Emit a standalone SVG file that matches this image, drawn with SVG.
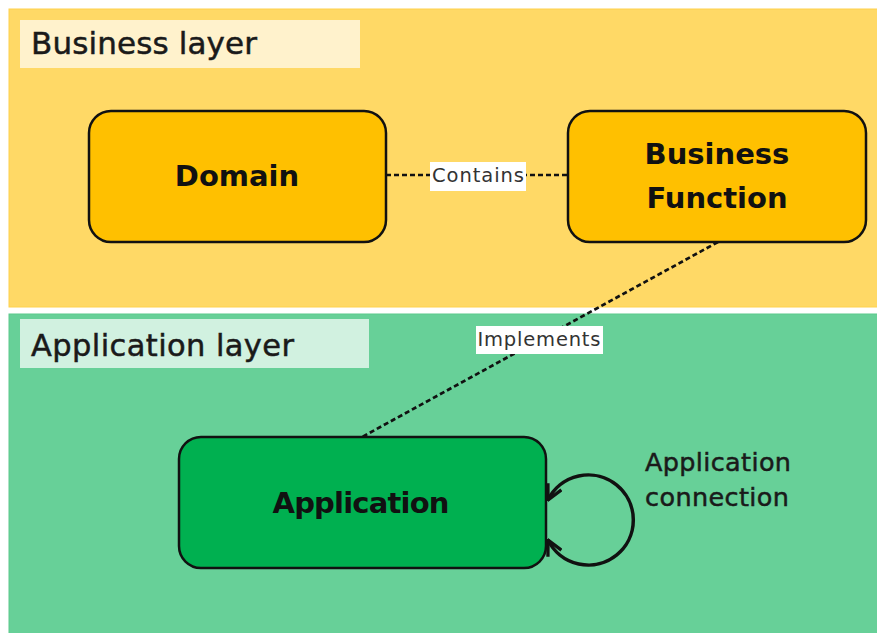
<svg xmlns="http://www.w3.org/2000/svg" width="877" height="633" viewBox="0 0 877 633">
<style>
.lbl{font-family:"DejaVu Sans",sans-serif;fill:#1a1a1a;stroke:#1a1a1a;stroke-width:0.5}
.node{stroke:#111;stroke-width:2.5}
.nt{font-family:"DejaVu Sans",sans-serif;font-weight:bold;font-size:29px;fill:#111;text-anchor:middle}
.dash{stroke:#111;stroke-width:2.7;stroke-dasharray:5 3;fill:none}
.cl{font-family:"DejaVu Sans",sans-serif;font-size:19.5px;fill:#333;text-anchor:middle}
</style>
<defs>
<marker id="arr" markerUnits="userSpaceOnUse" markerWidth="18" markerHeight="18" viewBox="0 0 12 12" refX="11" refY="6" orient="auto-start-reverse">
<path d="M1,1 L11,6 L1,11" fill="none" stroke="#111" stroke-width="2.2"/>
</marker>
</defs>
<rect width="877" height="633" fill="#fff"/>
<g id="business-layer">
<rect x="9" y="9" width="870" height="298" fill="#FFD966" stroke="#FFD24D" stroke-width="1"/>
<rect x="20" y="20" width="340" height="48" fill="#FFF2CC"/>
<text class="lbl" x="31" y="54" font-size="31" textLength="226">Business layer</text>
</g>
<g id="application-layer">
<rect x="9" y="314" width="870" height="320" fill="#67D098" stroke="#5CC98C" stroke-width="1"/>
<rect x="20" y="319" width="349" height="49" fill="#D1F1E0"/>
<text class="lbl" x="31" y="356" font-size="30.5" textLength="263">Application layer</text>
</g>
<g id="connectors">
<line class="dash" x1="386" y1="175" x2="568" y2="175"/>
<rect x="430" y="162" width="96" height="29" fill="#fff"/>
<text class="cl" x="478" y="182" textLength="92">Contains</text>
<line class="dash" x1="718" y1="242" x2="362" y2="437"/>
<rect x="476" y="326" width="127" height="28" fill="#fff"/>
<text class="cl" x="539" y="346" textLength="123">Implements</text>
<path d="M548,500 A45,45 0 1 1 548,540" fill="none" stroke="#111" stroke-width="3.5" marker-start="url(#arr)" marker-end="url(#arr)"/>
<text class="lbl" x="645" y="471" font-size="25.5" textLength="146">Application</text>
<text class="lbl" x="645" y="506" font-size="25.5" textLength="144">connection</text>
</g>
<g id="domain">
<rect class="node" x="89" y="111" width="297" height="131" rx="22" fill="#FFC000"/>
<text class="nt" x="237" y="186">Domain</text>
</g>
<g id="business-function">
<rect class="node" x="568" y="111" width="298" height="131" rx="22" fill="#FFC000"/>
<text class="nt" x="717" y="164">Business</text>
<text class="nt" x="717" y="208">Function</text>
</g>
<g id="application">
<rect class="node" x="179" y="437" width="367" height="131" rx="22" fill="#00B050"/>
<text class="nt" x="361" y="513" textLength="177">Application</text>
</g>
</svg>
